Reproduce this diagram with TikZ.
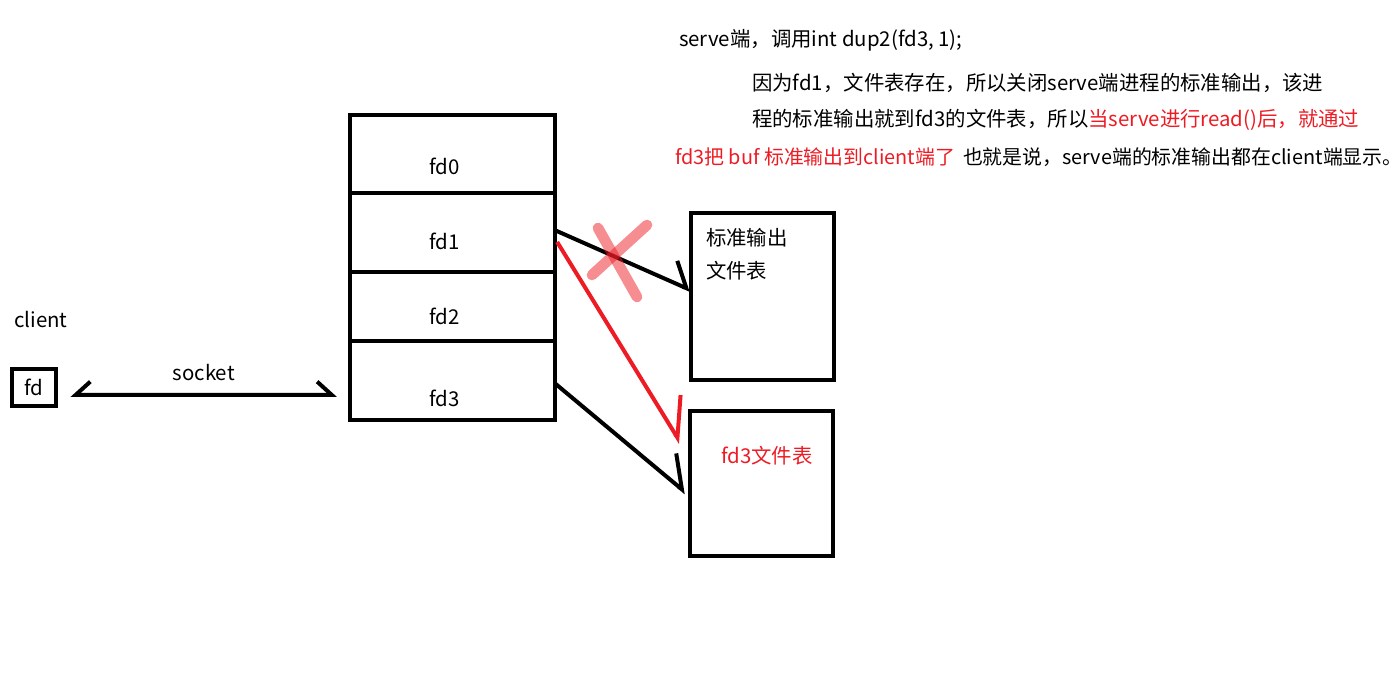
\documentclass[tikz,border=0pt]{standalone}
\usepackage{fontspec}
\newfontfamily\cjk{Noto Sans CJK SC}
\usetikzlibrary{arrows.meta,positioning}
\definecolor{paintred}{RGB}{237,28,36}

\begin{document}
\begin{tikzpicture}[x=0.75pt,y=-0.75pt,line width=3pt,font=\cjk\fontsize{15.3}{18}\selectfont]
    % Define the styles for the boxes and texts
    \tikzstyle{cell} = [rectangle, draw, outer sep=0pt, inner sep=0pt, minimum width=153.75pt]
    \tikzstyle{table} = [rectangle, draw, outer sep=0pt, inner sep=0pt, minimum width=107.25pt]
    \tikzstyle{txt} = [inner sep=0pt, anchor=west]
    \tikzstyle{tighttxt} = [txt, font=\cjk\fontsize{14.9}{18}\selectfont]
    \useasboundingbox (0,0) rectangle (1400,681);

    % Descriptor table of serve
    \node [cell, minimum height=58.35pt] (cell0) at (452,154.4) {};
    \node [cell, minimum height=59.25pt, below=0pt of cell0] (cell1) {};
    \node [cell, minimum height=51.5pt, below=0pt of cell1] (cell2) {};
    \node [cell, minimum height=59.6pt, below=0pt of cell2] (cell3) {};
    \node at ([xshift=-5.5pt,yshift=-8.7pt]cell0.center) (fd0) {fd0};
    \node at ([xshift=-5.5pt,yshift=-6.2pt]cell1.center) (fd1) {fd1};
    \node at ([xshift=-5.5pt,yshift=-7pt]cell2.center) (fd2) {fd2};
    \node at ([xshift=-5.5pt,yshift=-13pt]cell3.center) (fd3) {fd3};

    % Client side
    \node (client) at (41,320) {client};
    \node [rectangle, draw, outer sep=0pt, inner sep=0pt, minimum width=33pt, minimum height=28pt] (fd) at (33.8,387.5) {fd};

    % File tables
    \node [table, minimum height=125pt] (stdtab) at (762,296.3) {};
    \node [table, minimum height=108.75pt] (fd3tab) at (761.5,483.5) {};
    \node [txt] (stdout) at (704,238) {标准输出};
    \node [txt] (stdfile) at (704,271) {文件表};
    \node [txt, text=paintred] (fd3file) at (719,456) {fd3文件表};

    % Explanation
    \node [txt] (title) at (677,40) {serve端，调用int dup2(fd3, 1);};
    \node [txt] (line2) at (750,83) {因为fd1，文件表存在，所以关闭serve端进程的标准输出，该进};
    \node [txt] (line3) at (750,120) {程的标准输出就到fd3的文件表，所以\textcolor{paintred}{当serve进行read()后，就通过}};
    \node [tighttxt, text=paintred] (line4a) at (673,157) {fd3把 buf 标准输出到client端了};
    \node [tighttxt] (line4b) at (961,157) {也就是说，serve端的标准输出都在client端显示。};

    % Arrows
    \draw[{Straight Barb[harpoon,swap,length=11pt,width=20pt]}-{Straight Barb[harpoon,length=11pt,width=20pt]}] ([xshift=11pt,yshift=-5.6pt]fd.east) -- ([xshift=-9.4pt,yshift=-10.7pt]cell3.west) node[midway,above=6pt] {socket};
    \draw[-{Straight Barb[harpoon,length=14.5pt,width=32pt]}] ([yshift=2.1pt]cell1.east) -- ([yshift=4.7pt]stdtab.west);
    \draw[-{Straight Barb[harpoon,length=20.6pt,width=36pt]}] ([yshift=-1.7pt]cell3.east) -- ([xshift=-3pt,yshift=-7pt]fd3tab.west);
    \draw[paintred, -{Straight Barb[harpoon,length=26pt,width=37.5pt]}] ([xshift=2pt,yshift=-6.9pt]cell1.east) -- ([xshift=-7pt,yshift=30.4pt]fd3tab.west);

    % Cross on the old stdout link
    \draw[paintred, opacity=0.5, line width=8pt, line cap=round] (598,228) -- (637,297);
    \draw[paintred, opacity=0.5, line width=8pt, line cap=round] (592,275) -- (647,225);
\end{tikzpicture}
\end{document}
